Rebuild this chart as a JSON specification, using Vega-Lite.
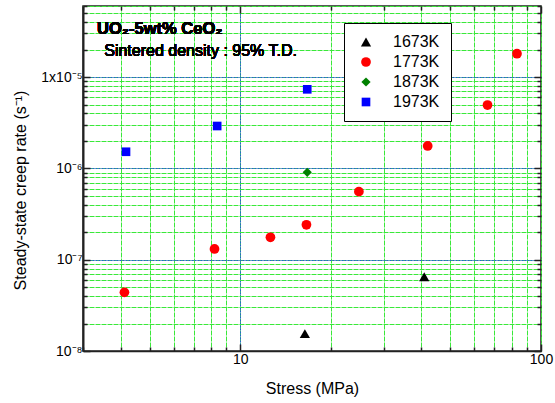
{
  "$schema": "https://vega.github.io/schema/vega-lite/v6.json",
  "width": 458,
  "height": 345,
  "autosize": "none",
  "padding": {"left": 83, "top": 6, "right": 14, "bottom": 52},
  "background": "white",
  "config": {
    "font": "Liberation Sans",
    "view": {"stroke": "#222", "strokeWidth": 1.5},
    "axis": {"labelFont": "Liberation Sans", "titleFont": "Liberation Sans", "labelColor": "#000", "titleColor": "#000", "titleFontWeight": "normal", "domainColor": "#222", "tickColor": "#222"}
  },
  "resolve": {"axis": {"x": "independent", "y": "independent"}},
  "data": {"values": [
    {"stress": 16.4, "rate": 1.55e-8, "T": "1673K"},
    {"stress": 40.9, "rate": 6.5e-8, "T": "1673K"},
    {"stress": 4.12, "rate": 4.39e-8, "T": "1773K"},
    {"stress": 8.21, "rate": 1.31e-7, "T": "1773K"},
    {"stress": 12.6, "rate": 1.76e-7, "T": "1773K"},
    {"stress": 16.6, "rate": 2.41e-7, "T": "1773K"},
    {"stress": 24.8, "rate": 5.56e-7, "T": "1773K"},
    {"stress": 42.0, "rate": 1.76e-6, "T": "1773K"},
    {"stress": 66.4, "rate": 4.94e-6, "T": "1773K"},
    {"stress": 83.2, "rate": 1.80e-5, "T": "1773K"},
    {"stress": 16.7, "rate": 9.06e-7, "T": "1873K"},
    {"stress": 4.17, "rate": 1.52e-6, "T": "1973K"},
    {"stress": 8.38, "rate": 2.91e-6, "T": "1973K"},
    {"stress": 16.7, "rate": 7.34e-6, "T": "1973K"}
  ]},
  "layer": [
    {
      "mark": {"type": "point", "filled": true, "opacity": 1},
      "encoding": {
        "x": {
          "field": "stress", "type": "quantitative",
          "scale": {"type": "log", "domain": [3, 100], "nice": false},
          "axis": {
            "orient": "bottom",
            "title": "Stress (MPa)", "titleFontSize": 16, "titlePadding": 14,
            "values": [3,4,5,6,7,8,9,10,20,30,40,50,60,70,80,90,100],
            "labelExpr": "datum.value == 10 || datum.value == 100 ? datum.value : ''",
            "labelFontSize": 14, "labelPadding": 8, "labelFlush": false,
            "tickSize": {"condition": {"test": "datum.value == 10 || datum.value == 100", "value": -7}, "value": -4},
            "tickWidth": 1.5,
            "grid": true, "gridColor": "#3ae83a", "gridDash": [5, 1], "gridOpacity": 1, "gridWidth": 1,
            "domainWidth": 1.5
          }
        },
        "y": {
          "field": "rate", "type": "quantitative",
          "scale": {"type": "log", "domain": [1e-8, 6e-5], "nice": false},
          "axis": {
            "orient": "left",
            "title": "Steady-state creep rate (s⁻¹)", "titleFontSize": 16, "titlePadding": 12, "titleY": 184,
            "values": [1e-8,2e-8,3e-8,4e-8,5e-8,6e-8,7e-8,8e-8,9e-8,1e-7,2e-7,3e-7,4e-7,5e-7,6e-7,7e-7,8e-7,9e-7,1e-6,2e-6,3e-6,4e-6,5e-6,6e-6,7e-6,8e-6,9e-6,1e-5,2e-5,3e-5,4e-5,5e-5,6e-5],
            "labelExpr": "datum.value < 1.5e-8 ? '10⁻⁸' : (datum.value > 0.95e-7 && datum.value < 1.05e-7) ? '10⁻⁷' : (datum.value > 0.95e-6 && datum.value < 1.05e-6) ? '10⁻⁶' : (datum.value > 0.95e-5 && datum.value < 1.05e-5) ? '1x10⁻⁵' : ''",
            "labelFontSize": 14, "labelPadding": 8,
            "tickSize": {"condition": {"test": "datum.value < 1.5e-8 || (datum.value > 0.95e-7 && datum.value < 1.05e-7) || (datum.value > 0.95e-6 && datum.value < 1.05e-6) || (datum.value > 0.95e-5 && datum.value < 1.05e-5)", "value": -7}, "value": -4},
            "tickWidth": 1.5,
            "grid": true, "gridColor": "#3ae83a", "gridDash": [5, 1], "gridOpacity": 1, "gridWidth": 1,
            "domainWidth": 2
          }
        },
        "shape": {
          "field": "T", "type": "nominal",
          "scale": {"domain": ["1673K", "1773K", "1873K", "1973K"], "range": ["triangle-up", "circle", "diamond", "square"]}
        },
        "size": {
          "field": "T", "type": "nominal",
          "scale": {"domain": ["1673K", "1773K", "1873K", "1973K"], "range": [105, 75, 110, 66]},
          "legend": null
        },
        "color": {
          "field": "T", "type": "nominal",
          "scale": {"domain": ["1673K", "1773K", "1873K", "1973K"], "range": ["#000000", "#ff0000", "#008000", "#0000ff"]},
          "legend": {
            "title": null, "orient": "none", "legendX": 261, "legendY": 17,
            "labelFontSize": 16, "labelFont": "Liberation Sans", "labelColor": "#000", "labelOffset": 19,
            "rowPadding": 4, "symbolSize": 100, "symbolOffset": 3,
            "padding": 11, "strokeColor": "#000", "fillColor": "#fff",
            "labelLimit": 200
          }
        }
      }
    },
    {
      "mark": {"type": "text", "align": "left", "baseline": "middle", "fontSize": 16.5, "fontWeight": "bold", "font": "Liberation Sans"},
      "encoding": {
        "x": {"datum": 3.34, "type": "quantitative", "axis": {
          "orient": "top", "values": [3,4,5,6,7,8,9,10,20,30,40,50,60,70,80,90,100],
          "labels": false, "domain": false, "title": null,
          "ticks": true, "tickSize": {"condition": {"test": "datum.value == 10 || datum.value == 100", "value": -7}, "value": -4}, "tickWidth": 1.5,
          "grid": true, "gridColor": "#2a5ad8", "gridDash": [2, 1], "gridWidth": 1,
          "gridOpacity": {"condition": {"test": "datum.value == 10", "value": 1}, "value": 0}
        }},
        "y": {"datum": 3.37e-5, "type": "quantitative", "axis": {
          "orient": "right",
          "values": [1e-8,2e-8,3e-8,4e-8,5e-8,6e-8,7e-8,8e-8,9e-8,1e-7,2e-7,3e-7,4e-7,5e-7,6e-7,7e-7,8e-7,9e-7,1e-6,2e-6,3e-6,4e-6,5e-6,6e-6,7e-6,8e-6,9e-6,1e-5,2e-5,3e-5,4e-5,5e-5,6e-5],
          "labels": false, "domain": false, "title": null,
          "ticks": true, "tickSize": {"condition": {"test": "datum.value < 1.5e-8 || (datum.value > 0.95e-7 && datum.value < 1.05e-7) || (datum.value > 0.95e-6 && datum.value < 1.05e-6) || (datum.value > 0.95e-5 && datum.value < 1.05e-5)", "value": -7}, "value": -4}, "tickWidth": 1.5,
          "grid": true, "gridColor": "#2a5ad8", "gridDash": [2, 1], "gridWidth": 1,
          "gridOpacity": {"condition": {"test": "(datum.value > 0.95e-7 && datum.value < 1.05e-7) || (datum.value > 0.95e-6 && datum.value < 1.05e-6) || (datum.value > 0.95e-5 && datum.value < 1.05e-5)", "value": 1}, "value": 0}
        }},
        "text": {"value": "UO₂-5wt% CeO₂"}
      }
    },
    {
      "mark": {"type": "text", "align": "left", "baseline": "middle", "fontSize": 16, "font": "Liberation Sans"},
      "encoding": {
        "x": {"datum": 3.53, "type": "quantitative", "axis": null},
        "y": {"datum": 1.93e-5, "type": "quantitative", "axis": null},
        "text": {"value": "Sintered density : 95% T.D."}
      }
    }
  ]
}
